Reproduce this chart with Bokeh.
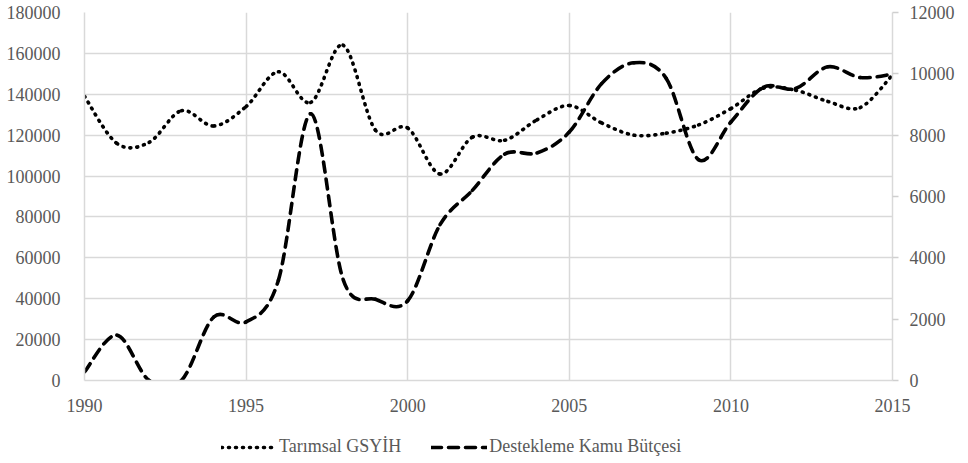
from bokeh.plotting import figure
from bokeh.layouts import column
from bokeh.models import (Range1d, LinearAxis, FixedTicker, NumeralTickFormatter,
                          Legend, LegendItem)
from bokeh.embed import file_html
from bokeh.resources import INLINE

years = list(range(1990, 2016))
gsyih = [139000, 116000, 116500, 132000, 124500, 134000, 151000, 136000, 164000,
         122500, 123500, 101000, 119000, 117500, 127500, 134500, 126000, 120000,
         121000, 125000, 133000, 143000, 142000, 136500, 133500, 149500]
butce = [280, 1480, 0, 0, 2070, 1910, 3270, 8700, 3300, 2650, 2600, 5080, 6200,
         7380, 7420, 8100, 9680, 10360, 9850, 7200, 8430, 9560, 9520, 10230,
         9880, 9990]
x_ticks = [1990, 1995, 2000, 2005, 2010, 2015]
left_ticks = list(range(0, 180001, 20000))
right_ticks = list(range(0, 12001, 2000))
series_names = ["Tarımsal GSYİH", "Destekleme Kamu Bütçesi"]

FONT = "Liberation Serif"
FS = "18px"
TXT = "#595959"
GRID = "#d9d9d9"
DOT = "1 6"
DASH = "10 7"
LW = 3.6


def smooth(xs, ys):
    """Catmull-Rom segments expressed as cubic Bezier control points (data space)."""
    n = len(xs)
    out = dict(x0=[], y0=[], x1=[], y1=[], cx0=[], cy0=[], cx1=[], cy1=[])
    for i in range(n - 1):
        p0 = i - 1 if i > 0 else i
        p3 = i + 2 if i + 2 < n else i + 1
        out["x0"].append(xs[i]); out["y0"].append(ys[i])
        out["x1"].append(xs[i + 1]); out["y1"].append(ys[i + 1])
        out["cx0"].append(xs[i] + (xs[i + 1] - xs[p0]) / 6)
        out["cy0"].append(ys[i] + (ys[i + 1] - ys[p0]) / 6)
        out["cx1"].append(xs[i + 1] - (xs[p3] - xs[i]) / 6)
        out["cy1"].append(ys[i + 1] - (ys[p3] - ys[i]) / 6)
    return out


p = figure(width=968, height=420, output_backend="svg", toolbar_location=None,
           x_range=Range1d(1990, 2015), y_range=Range1d(0, 180000),
           min_border_left=84, min_border_right=76, min_border_top=12,
           min_border_bottom=40)
p.outline_line_color = None
p.extra_y_ranges = {"right": Range1d(0, 12000)}

# grids
p.xgrid.ticker = FixedTicker(ticks=x_ticks)
p.ygrid.ticker = FixedTicker(ticks=left_ticks)
p.xgrid.grid_line_color = GRID
p.ygrid.grid_line_color = GRID
p.xgrid.grid_line_width = 1.5
p.ygrid.grid_line_width = 1.5

# axes
for ax in (p.xaxis[0], p.yaxis[0]):
    ax.major_label_text_font = FONT
    ax.major_label_text_font_size = FS
    ax.major_label_text_color = TXT
    ax.major_tick_line_color = None
    ax.minor_tick_line_color = None
    ax.axis_line_color = GRID
    ax.axis_line_width = 1.5
p.xaxis[0].ticker = FixedTicker(ticks=x_ticks)
p.xaxis[0].major_label_standoff = 12
p.yaxis[0].ticker = FixedTicker(ticks=left_ticks)
p.yaxis[0].formatter = NumeralTickFormatter(format="0")
p.yaxis[0].major_label_standoff = 18

ry = LinearAxis(y_range_name="right", ticker=FixedTicker(ticks=right_ticks),
                formatter=NumeralTickFormatter(format="0"))
ry.major_label_text_font = FONT
ry.major_label_text_font_size = FS
ry.major_label_text_color = TXT
ry.major_tick_line_color = "#cfcfcf"
ry.major_tick_line_width = 1.5
ry.major_tick_out = 6
ry.major_tick_in = 0
ry.minor_tick_line_color = None
ry.axis_line_color = GRID
ry.axis_line_width = 1.5
ry.major_label_standoff = 11
p.add_layout(ry, "right")

# series (smoothed like the original's smoothed lines)
p.bezier(line_color="black", line_width=LW, line_dash=DOT, line_cap="round",
         **smooth(years, gsyih))
p.bezier(line_color="black", line_width=LW, line_dash=DASH, line_cap="round",
         y_range_name="right", **smooth(years, butce))

# legend strip below the chart
lg = figure(width=968, height=43, output_backend="svg", toolbar_location=None,
            x_range=Range1d(0, 1), y_range=Range1d(0, 1),
            x_axis_location=None, y_axis_location=None,
            min_border_left=0, min_border_right=0, min_border_top=0,
            min_border_bottom=0)
lg.grid.visible = False
lg.outline_line_color = None
nan = float("nan")
l1 = lg.line(x=[nan], y=[nan], line_color="black", line_width=LW, line_dash=DOT,
             line_cap="round")
l2 = lg.line(x=[nan], y=[nan], line_color="black", line_width=LW, line_dash=DASH,
             line_cap="round")
legend = Legend(items=[LegendItem(label=series_names[0], renderers=[l1]),
                       LegendItem(label=series_names[1], renderers=[l2])],
                orientation="horizontal", location=(137, 6),
                border_line_color=None, background_fill_alpha=0,
                label_text_font=FONT, label_text_font_size=FS,
                label_text_color=TXT, glyph_width=56, glyph_height=20,
                label_height=20, spacing=30, label_standoff=2, margin=0,
                padding=0)
lg.add_layout(legend, "center")

open("out.html", "w").write(file_html(column(p, lg, spacing=0), INLINE))
